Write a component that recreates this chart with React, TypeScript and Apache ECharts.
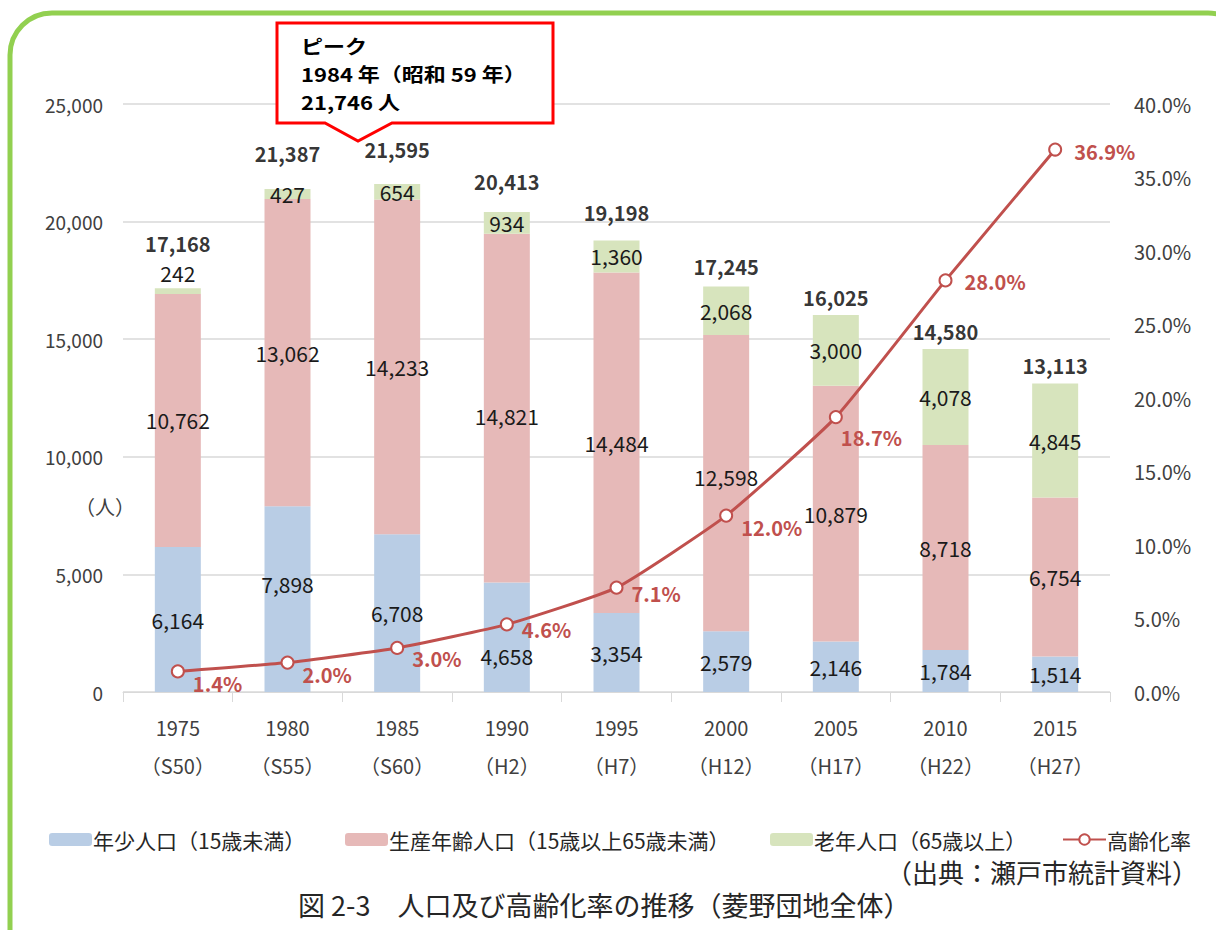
import React, { useEffect, useRef } from "react";
import * as echarts from "echarts";

const years = ["1975", "1980", "1985", "1990", "1995", "2000", "2005", "2010", "2015"];
const eras = ["S50", "S55", "S60", "H2", "H7", "H12", "H17", "H22", "H27"];
const youth = [6164, 7898, 6708, 4658, 3354, 2579, 2146, 1784, 1514];
const working = [10762, 13062, 14233, 14821, 14484, 12598, 10879, 8718, 6754];
const elderly = [242, 427, 654, 934, 1360, 2068, 3000, 4078, 4845];
const totals = [17168, 21387, 21595, 20413, 19198, 17245, 16025, 14580, 13113];
const agingRate = [1.4, 2.0, 3.0, 4.6, 7.1, 12.0, 18.7, 28.0, 36.9];
const leftTicks = [0, 5000, 10000, 15000, 20000, 25000];
const calloutLines = ["ピーク", "1984 年（昭和 59 年）", "21,746 人"];

const FONT = "'Noto Sans CJK JP', 'Noto Sans', sans-serif";
const C_YOUTH = "#B9CDE5";
const C_WORK = "#E6B9B8";
const C_OLD = "#D7E4BD";
const C_LINE = "#C0504D";

const fmt = (v: number) => v.toLocaleString("en-US");

export default function App() {
  const ref = useRef<HTMLDivElement>(null);
  useEffect(() => {
    document.body.style.margin = "0";
    const chart = echarts.init(ref.current!, null, { renderer: "svg" });
    const labelBase = {
      show: true,
      fontFamily: FONT,
      fontSize: 21,
      color: "#1a1a1a",
      formatter: (p: any) => fmt(p.value),
    };
    const youthOffsets: Record<number, number[]> = { 1: [0, -15], 3: [0, 19] };
    const workOffsets: Record<number, number[]> = { 3: [0, 8], 5: [0, -6] };
    const oldOffsets: Record<number, number[]> = { 0: [0, -18] };
    const totalLift = [27, 17, 17, 12, 10, 2, 0, 0, 0];
    const rateOffsets: number[][] = [
      [0, 12], [0, 12], [0, 11], [0, 5], [0, 6], [0, 12], [-10, 20], [4, 1], [4, 2],
    ];
    const option: any = {
      animation: false,
      backgroundColor: "#ffffff",
      textStyle: { fontFamily: FONT },
      grid: { left: 123, right: 106, top: 104, bottom: 238 },
      legend: [
        { name: "年少人口（15歳未満）", left: 44 },
        { name: "生産年齢人口（15歳以上65歳未満）", left: 340 },
        { name: "老年人口（65歳以上）", left: 765 },
        { name: "高齢化率", left: 1057 },
      ].map((l) => ({
        data: [l.name],
        left: l.left,
        top: 824,
        itemWidth: 43,
        itemHeight: 13,
        itemGap: 2,
        textStyle: { fontFamily: FONT, fontSize: 21, color: "#262626", padding: [0, 0, 0, -4] },
      })),
      xAxis: {
        type: "category",
        data: years,
        axisLine: { lineStyle: { color: "#D9D9D9", width: 1 } },
        axisTick: { show: true, length: 10, lineStyle: { color: "#D9D9D9" } },
        axisLabel: {
          margin: 16,
          fontFamily: FONT,
          fontSize: 20,
          color: "#404040",
          lineHeight: 38,
          formatter: (v: string, i: number) => `${v}\n（${eras[i]}）`,
        },
      },
      yAxis: [
        {
          type: "value",
          min: 0,
          max: 25000,
          interval: 5000,
          axisLine: { show: false },
          axisTick: { show: false },
          splitLine: { lineStyle: { color: "#D9D9D9", width: 1.5 } },
          axisLabel: {
            fontFamily: FONT,
            fontSize: 19,
            color: "#404040",
            margin: 20,
            formatter: (v: number) => (leftTicks.includes(v) ? fmt(v) : ""),
          },
        },
        {
          type: "value",
          min: 0,
          max: 40,
          interval: 5,
          position: "right",
          axisLine: { show: false },
          axisTick: { show: false },
          splitLine: { show: false },
          axisLabel: {
            fontFamily: FONT,
            fontSize: 20,
            color: "#404040",
            margin: 24,
            formatter: (v: number) => v.toFixed(1) + "%",
          },
        },
      ],
      series: [
        {
          name: "年少人口（15歳未満）",
          type: "bar",
          stack: "pop",
          barWidth: 46,
          itemStyle: { color: C_YOUTH },
          data: youth.map((v, i) => ({
            value: v,
            label: youthOffsets[i] ? { offset: youthOffsets[i] } : undefined,
          })),
          label: { ...labelBase, position: "inside" },
        },
        {
          name: "生産年齢人口（15歳以上65歳未満）",
          type: "bar",
          stack: "pop",
          itemStyle: { color: C_WORK },
          data: working.map((v, i) => ({
            value: v,
            label: workOffsets[i] ? { offset: workOffsets[i] } : undefined,
          })),
          label: { ...labelBase, position: "inside" },
        },
        {
          name: "老年人口（65歳以上）",
          type: "bar",
          stack: "pop",
          itemStyle: { color: C_OLD },
          data: elderly.map((v, i) => ({
            value: v,
            label: oldOffsets[i] ? { offset: oldOffsets[i] } : undefined,
          })),
          label: { ...labelBase, position: "inside" },
        },
        {
          name: "合計",
          type: "scatter",
          symbolSize: 0,
          silent: true,
          data: totals.map((v, i) => ({
            value: v,
            label: { offset: [0, -totalLift[i]] },
          })),
          label: {
            show: true,
            position: "top",
            distance: 8,
            fontFamily: FONT,
            fontSize: 20,
            fontWeight: "bold",
            color: "#000000",
            formatter: (p: any) => fmt(p.value),
          },
          z: 5,
        },
        {
          name: "高齢化率",
          type: "line",
          yAxisIndex: 1,
          smooth: 0.15,
          symbol: "emptyCircle",
          symbolSize: 12,
          lineStyle: { color: C_LINE, width: 3 },
          itemStyle: { color: C_LINE, borderWidth: 2.5, borderColor: C_LINE },
          data: agingRate.map((v, i) => ({
            value: v,
            label: { offset: rateOffsets[i] },
          })),
          label: {
            show: true,
            position: "right",
            distance: 8,
            fontFamily: FONT,
            fontSize: 20,
            fontWeight: "bold",
            color: C_LINE,
            formatter: (p: any) => p.value.toFixed(1) + "%",
          },
          z: 10,
        },
      ],
      graphic: [
        {
          type: "rect",
          shape: { x: 10, y: 13, width: 1240, height: 960, r: 42 },
          style: { fill: "none", stroke: "#92D050", lineWidth: 5 },
          silent: true,
          z: 100,
        },
        {
          type: "polygon",
          shape: {
            points: [
              [277, 23], [553, 23], [553, 123], [392, 123], [358, 141], [325, 123], [277, 123],
            ],
          },
          style: { fill: "#ffffff", stroke: "#FF0000", lineWidth: 3 },
          z: 50,
        },
        ...calloutLines.map((t, i) => ({
          type: "text",
          x: 301,
          y: 46 + i * 28,
          scaleY: 0.86,
          z: 51,
          style: {
            text: t,
            font: `bold 22px ${FONT}`,
            fill: "#000000",
            verticalAlign: "middle",
          },
        })),
        {
          type: "text",
          left: 75,
          top: 496,
          style: { text: "（人）", font: `20px ${FONT}`, fill: "#404040" },
        },
        {
          type: "text",
          right: 18,
          top: 858,
          style: { text: "（出典：瀬戸市統計資料）", font: `26px ${FONT}`, fill: "#262626" },
        },
        {
          type: "text",
          left: 298,
          top: 891,
          style: { text: "図 2-3　人口及び高齢化率の推移（菱野団地全体）", font: `27px ${FONT}`, fill: "#262626" },
        },
      ],
    };
    chart.setOption(option);
    return () => chart.dispose();
  }, []);
  return <div ref={ref} style={{ width: 1216, height: 930 }} />;
}
